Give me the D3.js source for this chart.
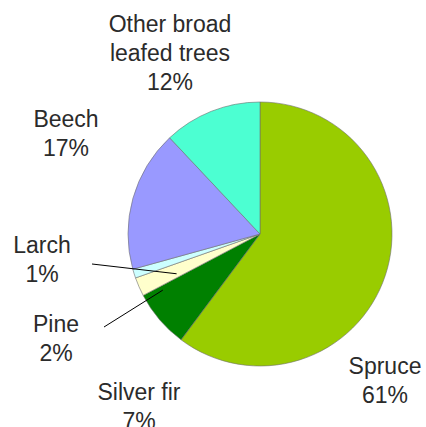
<!DOCTYPE html>
<html>
<head>
<meta charset="utf-8">
<script src="https://cdn.jsdelivr.net/npm/d3@7"></script>
<style>
  html, body { margin: 0; padding: 0; background: #fff; }
  svg { display: block; }
  text { font-family: "Liberation Sans", Arial, sans-serif; fill: #2b2b2b; }
</style>
</head>
<body>
<div id="chart"></div>
<script>
// Tree species share (clockwise from 12 o'clock)
const species = ["Spruce", "Silver fir", "Pine", "Larch", "Beech", "Other broad leafed trees"];
const shares = [60.2, 7.1, 2.3, 1.1, 17.3, 12.0];
const pctLabels = ["61%", "7%", "2%", "1%", "17%", "12%"];
const colors = ["#99cc00", "#008000", "#ffffcc", "#ccffff", "#9999ff", "#4cffd2"];

// label lines as shown in the picture
const labelLines = [["Spruce"], ["Silver fir"], ["Pine"], ["Larch"], ["Beech"], ["Other broad", "leafed trees"]];

function createPie(selector) {
    const width = 426, height = 427;
    const cx = 260, cy = 234, radius = 132;

    const svg = d3.select(selector)
        .append("svg")
        .attr("width", width)
        .attr("height", height);

    const g = svg.append("g")
        .attr("transform", `translate(${cx}, ${cy})`);

    const pie = d3.pie().sort(null).value(d => d);
    const arcs = pie(shares);
    const arc = d3.arc().innerRadius(0).outerRadius(radius);

    g.selectAll("path.slice")
        .data(arcs)
        .enter()
        .append("path")
        .attr("class", "slice")
        .attr("d", arc)
        .attr("fill", (d, i) => colors[i])
        .attr("stroke", "#6e6e6e")
        .attr("stroke-width", 0.6);

    // label anchor positions (centre x, first baseline), relative to svg
    const labelPos = [
        [385, 374],
        [139, 400],
        [56, 332],
        [42, 253],
        [66, 127],
        [170, 32]
    ];
    const lineHeight = 29;

    species.forEach((name, i) => {
        const lines = labelLines[i].concat([pctLabels[i]]);
        const t = svg.append("text")
            .attr("text-anchor", "middle")
            .attr("font-size", "23px");
        lines.forEach((s, k) => {
            t.append("tspan")
                .attr("x", labelPos[i][0])
                .attr("y", labelPos[i][1] + k * lineHeight)
                .text(s);
        });
    });

    // leader lines for the two thin slices: [index, start in svg, end angle (deg), end radius fraction]
    const leaders = [
        [3, [92, 264], 244.5, 0.7],
        [2, [104, 327], 240, 0.85]
    ];
    leaders.forEach(([i, start, angDeg, rf]) => {
        const a = angDeg * Math.PI / 180;
        const ex = cx + Math.sin(a) * radius * rf;
        const ey = cy - Math.cos(a) * radius * rf;
        svg.append("line")
            .attr("x1", start[0]).attr("y1", start[1])
            .attr("x2", ex).attr("y2", ey)
            .attr("stroke", "#000")
            .attr("stroke-width", 1);
    });
}

createPie("#chart");
</script>
</body>
</html>
